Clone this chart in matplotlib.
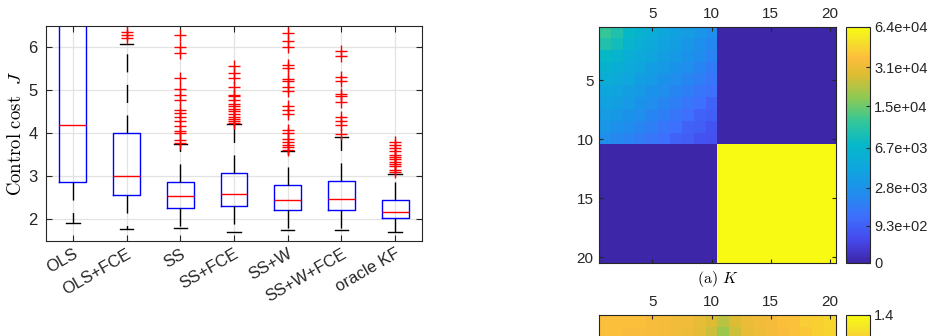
import numpy as np
import matplotlib
matplotlib.use('Agg')
import matplotlib.pyplot as plt
from matplotlib.colors import LinearSegmentedColormap, FuncNorm, Normalize

# ---- boxplot data (control cost J) ----
methods = ['OLS', 'OLS+FCE', 'SS', 'SS+FCE', 'SS+W', 'SS+W+FCE', 'oracle KF']
q1 = [2.86, 2.57, 2.26, 2.30, 2.22, 2.21, 2.02]
med = [4.19, 3.00, 2.53, 2.59, 2.45, 2.48, 2.17]
q3 = [7.60, 4.01, 2.86, 3.08, 2.79, 2.89, 2.44]
whislo = [1.91, 1.78, 1.80, 1.71, 1.75, 1.74, 1.70]
whishi = [13.0, 6.08, 3.76, 4.22, 3.59, 3.91, 3.06]
fliers = [
    [],
    [6.22, 6.28, 6.35],
    [3.78, 3.84, 4.00, 4.06, 4.16, 4.28, 4.38, 4.47, 4.55, 4.78, 4.90,
     5.03, 5.29, 5.88, 6.00, 6.30],
    [4.25, 4.28, 4.33, 4.39, 4.46, 4.51, 4.56, 4.63, 4.69, 4.78, 4.86,
     4.90, 5.08, 5.29, 5.40, 5.58],
    [3.62, 3.69, 3.73, 3.79, 3.86, 4.00, 4.08, 4.46, 4.55, 4.64, 4.98,
     5.08, 5.22, 5.26, 5.52, 5.60, 6.02, 6.14, 6.34],
    [3.99, 4.20, 4.28, 4.38, 4.74, 4.88, 4.92, 5.21, 5.31, 5.79, 5.92],
    [3.10, 3.15, 3.23, 3.29, 3.34, 3.40, 3.45, 3.50, 3.58, 3.65, 3.72, 3.81],
]

# ---- K matrix: upper-left 10x10 block, lower-right block constant ----
K_block = [
    [11200, 9400, 7100, 6100, 5300, 4500, 3900, 3500, 3000, 2500],
    [9400, 8100, 6400, 5500, 4800, 4100, 3700, 3100, 2600, 2200],
    [7100, 6400, 5500, 4800, 4300, 3700, 3300, 2800, 2400, 2000],
    [6100, 5500, 4800, 4300, 3700, 3300, 2800, 2500, 2100, 1700],
    [5300, 4800, 4300, 3700, 3300, 2800, 2500, 2100, 1800, 1500],
    [4500, 4100, 3700, 3300, 2800, 2500, 2100, 1800, 1500, 1300],
    [3900, 3700, 3300, 2800, 2500, 2100, 1800, 1500, 1300, 1000],
    [3500, 3100, 2800, 2500, 2100, 1800, 1500, 1300, 1000, 900],
    [3000, 2600, 2400, 2100, 1800, 1500, 1300, 1000, 900, 700],
    [2500, 2200, 2000, 1700, 1500, 1300, 1000, 900, 700, 650],
]
K_lower_right = 64000
K_ticks = [0, 930, 2800, 6700, 15000, 31000, 64000]
K_ticklabels = ['0', '9.3e+02', '2.8e+03', '6.7e+03', '1.5e+04', '3.1e+04', '6.4e+04']

# ---- second matrix, only its first two rows are inside the picture ----
G_rows = [
    [1.22, 1.22, 1.22, 1.22, 1.20, 1.19, 1.18, 1.18, 1.15, 1.12,
     1.06, 1.12, 1.16, 1.18, 1.19, 1.22, 1.23, 1.26, 1.27, 1.29],
    [1.22, 1.22, 1.21, 1.21, 1.20, 1.19, 1.18, 1.17, 1.14, 1.09,
     1.01, 1.09, 1.15, 1.17, 1.19, 1.21, 1.23, 1.25, 1.27, 1.28],
]
G_max = 1.4

# parula-like colormap
parula = LinearSegmentedColormap.from_list('parula', [
    (0.00, (0.242, 0.150, 0.660)),
    (0.10, (0.275, 0.290, 0.930)),
    (0.20, (0.240, 0.440, 0.990)),
    (0.30, (0.120, 0.560, 0.930)),
    (0.40, (0.060, 0.650, 0.870)),
    (0.50, (0.020, 0.720, 0.790)),
    (0.60, (0.200, 0.780, 0.600)),
    (0.70, (0.550, 0.790, 0.330)),
    (0.80, (0.870, 0.740, 0.200)),
    (0.87, (0.990, 0.740, 0.240)),
    (0.95, (0.960, 0.900, 0.150)),
    (1.00, (0.977, 0.984, 0.080)),
])

plt.rcParams['font.family'] = ['Liberation Sans', 'DejaVu Sans']
plt.rcParams['mathtext.fontset'] = 'cm'
spine_col = '#262626'

fig = plt.figure(figsize=(9.29, 3.36), dpi=100)

# ---------------- boxplot ----------------
ax = fig.add_axes([0.0495, 0.2836, 0.4047, 0.639])
stats = []
for i in range(len(methods)):
    stats.append(dict(q1=q1[i], med=med[i], q3=q3[i], whislo=whislo[i],
                      whishi=whishi[i], fliers=fliers[i], label=methods[i]))
pos = np.arange(1, len(methods) + 1)
ax.bxp(stats, positions=pos, widths=0.5, capwidths=0.25,
       boxprops=dict(color='blue', lw=1.0),
       medianprops=dict(color='red', lw=1.0),
       whiskerprops=dict(color='black', lw=1.0, linestyle=(0, (13, 9))),
       capprops=dict(color='black', lw=1.0),
       flierprops=dict(marker='+', markeredgecolor='red', markersize=8.5,
                       markeredgewidth=1.0, linestyle='none'))
ax.set_xlim(0.5, 7.5)
ax.set_ylim(1.5, 6.5)
ax.set_yticks([2, 3, 4, 5, 6])
ax.set_xticks(pos)
ax.set_xticklabels(methods, rotation=30, ha='right', va='top',
                   rotation_mode='anchor', fontsize=12.5)
ax.grid(True, color='#e3e3e3', lw=0.9)
ax.set_axisbelow(True)
ax.tick_params(direction='in', top=True, right=True, length=4, width=0.8,
               colors=spine_col, labelsize=12, pad=6)
ax.tick_params(axis='x', pad=4)
ax.set_ylabel(r'$\mathrm{Control\ cost}\ \ J$', fontsize=13.5, labelpad=2)
for s in ax.spines.values():
    s.set_color(spine_col)
    s.set_linewidth(0.8)

# ---------------- K heatmap ----------------
K = np.block([
    [np.array(K_block, dtype=float), np.zeros((10, 10))],
    [np.zeros((10, 10)), np.full((10, 10), float(K_lower_right))],
])
fwd = lambda x: np.log2(1 + np.asarray(x) / 1000.0)
inv = lambda y: 1000.0 * (2.0 ** np.asarray(y) - 1)
knorm = FuncNorm((fwd, inv), vmin=0, vmax=K_lower_right)

def style_heat(a, left_labels=True):
    a.set_xlim(0.5, 20.5)
    a.set_ylim(20.5, 0.5)
    a.set_xticks([5, 10, 15, 20])
    a.set_yticks([5, 10, 15, 20])
    a.xaxis.tick_top()
    a.tick_params(direction='in', top=True, bottom=True, left=True, right=True,
                  labeltop=True, labelbottom=False, labelleft=left_labels,
                  length=3, width=0.8, colors=spine_col, labelsize=11, pad=4)
    for s in a.spines.values():
        s.set_color(spine_col)
        s.set_linewidth(0.8)

ax1 = fig.add_axes([0.6448, 0.2173, 0.2551, 0.7024])
im1 = ax1.imshow(K, cmap=parula, norm=knorm, aspect='auto',
                 extent=(0.5, 20.5, 20.5, 0.5), interpolation='nearest')
style_heat(ax1)

cax1 = fig.add_axes([0.9107, 0.2173, 0.0258, 0.7024])
cb1 = fig.colorbar(im1, cax=cax1)
cb1.set_ticks(K_ticks)
cb1.set_ticklabels(K_ticklabels)
cb1.ax.tick_params(direction='in', length=3, width=0.8, colors=spine_col,
                   labelsize=10.5, pad=3)
cb1.ax.minorticks_off()
cb1.outline.set_edgecolor(spine_col)
cb1.outline.set_linewidth(0.8)

fig.text(0.7729, 0.1696, r'$\mathrm{(a)}\ K$', ha='center', va='center',
         fontsize=11.5)

# ---------------- second heatmap (cut off by the page) ----------------
ax2 = fig.add_axes([0.6448, -0.6399, 0.2551, 0.7024])
im2 = ax2.imshow(np.array(G_rows), cmap=parula, norm=Normalize(0, G_max),
                 aspect='auto', extent=(0.5, 20.5, 2.5, 0.5),
                 interpolation='nearest')
style_heat(ax2, left_labels=False)

cax2 = fig.add_axes([0.9107, -0.6399, 0.0258, 0.7024])
cb2 = fig.colorbar(im2, cax=cax2)
cb2.set_ticks([G_max])
cb2.set_ticklabels(['1.4'])
cb2.ax.tick_params(direction='in', length=3, width=0.8, colors=spine_col,
                   labelsize=10.5, pad=3)
cb2.outline.set_edgecolor(spine_col)
cb2.outline.set_linewidth(0.8)

fig.savefig('out.png', dpi=100)
